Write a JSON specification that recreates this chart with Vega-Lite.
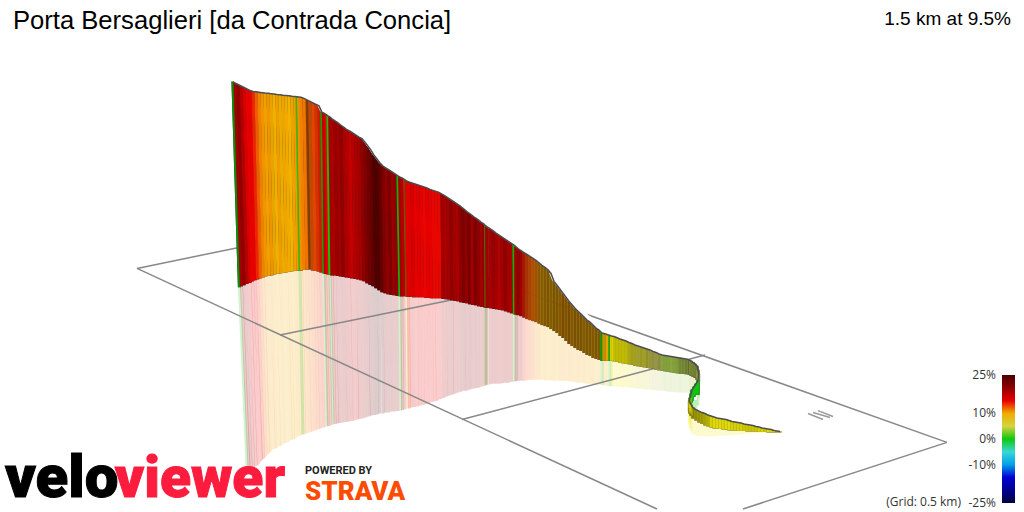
{
  "$schema": "https://vega.github.io/schema/vega-lite/v6.json",
  "width": 1024,
  "height": 512,
  "padding": 0,
  "autosize": {"type": "fit", "contains": "padding"},
  "background": "white",
  "view": {"stroke": null},
  "title": {"text": "Porta Bersaglieri [da Contrada Concia]", "anchor": "start", "frame": "group", "offset": -35, "dx": 13, "font": "Liberation Sans", "fontSize": 25.6, "fontWeight": "normal", "color": "#000000"},
  "datasets": {
    "profile": [
      {"x":233,"xb":239.5,"xl":247,"top":82,"base":289,"low":470,"grade":0.5,"light":0.7},
      {"x":235,"xb":241.5,"xl":249,"top":83.5,"base":288,"low":470,"grade":19,"light":1},
      {"x":238,"xb":244,"xl":251,"top":85,"base":287,"low":470,"grade":20,"light":1},
      {"x":241,"xb":247,"xl":253.5,"top":86.5,"base":285.5,"low":470,"grade":18,"light":1},
      {"x":244,"xb":250,"xl":256,"top":88,"base":284.5,"low":469,"grade":16,"light":1},
      {"x":247,"xb":252.5,"xl":258.5,"top":89.5,"base":283,"low":468,"grade":15,"light":1},
      {"x":250,"xb":255,"xl":261.5,"top":91,"base":282,"low":465,"grade":15,"light":1},
      {"x":253,"xb":257.7,"xl":263.5,"top":92,"base":281,"low":462,"grade":14,"light":1},
      {"x":256,"xb":260.5,"xl":266,"top":92.4,"base":280,"low":460,"grade":12.5,"light":1},
      {"x":259,"xb":263.3,"xl":268.7,"top":92.8,"base":279,"low":457,"grade":11.5,"light":1},
      {"x":262,"xb":266,"xl":271,"top":93.2,"base":278,"low":455,"grade":10.8,"light":1},
      {"x":265,"xb":269,"xl":274,"top":93.6,"base":277.5,"low":452,"grade":10.4,"light":1},
      {"x":268,"xb":272,"xl":276.5,"top":93.9,"base":277,"low":451,"grade":10.8,"light":1},
      {"x":271,"xb":275,"xl":279.5,"top":94.2,"base":276,"low":449,"grade":10.1,"light":0.97},
      {"x":274,"xb":278,"xl":282,"top":94.6,"base":275.5,"low":448,"grade":9.9,"light":1},
      {"x":277,"xb":280.8,"xl":285,"top":95,"base":275,"low":446,"grade":10.6,"light":1},
      {"x":280,"xb":283.7,"xl":288,"top":95.3,"base":274.5,"low":445,"grade":9.8,"light":0.97},
      {"x":283,"xb":286.6,"xl":291,"top":95.7,"base":274,"low":443,"grade":10.3,"light":1},
      {"x":286,"xb":289.4,"xl":293.5,"top":96,"base":273.5,"low":442,"grade":10.1,"light":1},
      {"x":289,"xb":292.3,"xl":296,"top":96.4,"base":273,"low":441,"grade":9.8,"light":1},
      {"x":292,"xb":295.2,"xl":298.7,"top":96.8,"base":272.5,"low":439,"grade":10.4,"light":1},
      {"x":295,"xb":298,"xl":301.5,"top":97.1,"base":272,"low":438,"grade":10.6,"light":1},
      {"x":297,"xb":300,"xl":303,"top":97.4,"base":272,"low":437,"grade":0.8,"light":0.85},
      {"x":298.5,"xb":301.5,"xl":304.5,"top":97.6,"base":272,"low":436.5,"grade":11,"light":1},
      {"x":301,"xb":304,"xl":307,"top":97.9,"base":271.5,"low":436,"grade":11.5,"light":1},
      {"x":304,"xb":306.8,"xl":310,"top":99,"base":271,"low":435,"grade":11.8,"light":1},
      {"x":307,"xb":309.6,"xl":312.6,"top":100.5,"base":271,"low":434,"grade":12,"light":0.55},
      {"x":310,"xb":312.5,"xl":315.5,"top":102,"base":272,"low":433,"grade":12.5,"light":0.8},
      {"x":313,"xb":315.3,"xl":318.3,"top":103.5,"base":272.5,"low":432,"grade":13,"light":0.95},
      {"x":316,"xb":318.2,"xl":321,"top":105,"base":273,"low":431,"grade":13.5,"light":0.9},
      {"x":319,"xb":321,"xl":324,"top":106.5,"base":274,"low":430,"grade":14,"light":0.85},
      {"x":322,"xb":324,"xl":327,"top":113,"base":275,"low":429,"grade":0.8,"light":0.8},
      {"x":323.5,"xb":325.5,"xl":328.5,"top":113.5,"base":275.5,"low":428.5,"grade":17,"light":1},
      {"x":326,"xb":328,"xl":331,"top":115,"base":276,"low":428,"grade":15,"light":1},
      {"x":328,"xb":330,"xl":333,"top":116.5,"base":276.5,"low":427,"grade":0.6,"light":0.95},
      {"x":329.8,"xb":332,"xl":335,"top":117.5,"base":277,"low":426.5,"grade":19,"light":1},
      {"x":332,"xb":334.5,"xl":337.5,"top":119.5,"base":277,"low":426,"grade":18.5,"light":1},
      {"x":335,"xb":337.4,"xl":340,"top":121.5,"base":277.5,"low":425.5,"grade":19.5,"light":1},
      {"x":338,"xb":340.4,"xl":343,"top":123.5,"base":278,"low":425,"grade":19,"light":1},
      {"x":341,"xb":343.3,"xl":346,"top":126,"base":278.5,"low":424.5,"grade":20,"light":1},
      {"x":344,"xb":346.3,"xl":348.8,"top":128,"base":279,"low":424,"grade":18.5,"light":1},
      {"x":347,"xb":349.3,"xl":351.7,"top":130.5,"base":279.5,"low":423.5,"grade":18,"light":1},
      {"x":350,"xb":352,"xl":354.5,"top":132,"base":280,"low":423,"grade":17,"light":1},
      {"x":353,"xb":355,"xl":357.5,"top":134,"base":280.5,"low":422,"grade":18,"light":1},
      {"x":356,"xb":358,"xl":360,"top":136,"base":281,"low":421.5,"grade":18.5,"light":1},
      {"x":359,"xb":361,"xl":363,"top":138,"base":282,"low":421,"grade":19,"light":1},
      {"x":362,"xb":364,"xl":366,"top":139.5,"base":283,"low":420,"grade":20,"light":1},
      {"x":365,"xb":367,"xl":369,"top":143,"base":285,"low":419,"grade":21,"light":1},
      {"x":368,"xb":370,"xl":371.5,"top":147,"base":286.5,"low":418,"grade":22,"light":1},
      {"x":371,"xb":373,"xl":374.5,"top":151,"base":288,"low":417.5,"grade":23,"light":1},
      {"x":374,"xb":376,"xl":377.4,"top":156,"base":290,"low":417,"grade":24.5,"light":1},
      {"x":377,"xb":379,"xl":380,"top":160,"base":292,"low":416,"grade":24.5,"light":1},
      {"x":380,"xb":382,"xl":383.3,"top":164,"base":294,"low":416,"grade":23,"light":1},
      {"x":383,"xb":385,"xl":386,"top":167,"base":295,"low":415,"grade":21,"light":1},
      {"x":386,"xb":388,"xl":389,"top":169,"base":296,"low":415,"grade":20,"light":1},
      {"x":389,"xb":391,"xl":392,"top":171,"base":296.5,"low":414,"grade":21,"light":1},
      {"x":392,"xb":394,"xl":395,"top":173,"base":297,"low":414,"grade":19.5,"light":1},
      {"x":395,"xb":397,"xl":398,"top":175,"base":297.5,"low":413.5,"grade":20,"light":1},
      {"x":398,"xb":400,"xl":401,"top":177,"base":298,"low":413,"grade":0.7,"light":0.9},
      {"x":399.7,"xb":401.7,"xl":402.5,"top":178,"base":298,"low":412.7,"grade":19,"light":1},
      {"x":402,"xb":404,"xl":405,"top":179,"base":298,"low":412,"grade":18,"light":1},
      {"x":405,"xb":407,"xl":408,"top":181,"base":298.5,"low":411,"grade":10,"light":0.45},
      {"x":406.5,"xb":408.4,"xl":409.3,"top":182,"base":298.5,"low":411,"grade":15.5,"light":1},
      {"x":409,"xb":410.8,"xl":411.7,"top":183,"base":298.5,"low":410,"grade":15.5,"light":1},
      {"x":412,"xb":413.7,"xl":414.5,"top":184,"base":299,"low":409.5,"grade":16,"light":1},
      {"x":415,"xb":416.7,"xl":417.5,"top":185,"base":299,"low":409,"grade":15,"light":1},
      {"x":418,"xb":419.6,"xl":420.3,"top":186,"base":299,"low":408,"grade":15.5,"light":1},
      {"x":421,"xb":422.5,"xl":423.2,"top":187,"base":299,"low":407.5,"grade":15,"light":1},
      {"x":424,"xb":425.5,"xl":426,"top":188,"base":299.5,"low":406.5,"grade":14.8,"light":1},
      {"x":427,"xb":428.4,"xl":429,"top":189,"base":299.5,"low":405.7,"grade":15.2,"light":1},
      {"x":430,"xb":431.3,"xl":432,"top":190.5,"base":300,"low":404.5,"grade":15,"light":1},
      {"x":433,"xb":434.2,"xl":434.8,"top":191.5,"base":300,"low":403.5,"grade":14.8,"light":1},
      {"x":436,"xb":437,"xl":437.5,"top":192.5,"base":300,"low":403,"grade":14.8,"light":1},
      {"x":439,"xb":440,"xl":440.5,"top":193.5,"base":300,"low":401.5,"grade":14.8,"light":1},
      {"x":442,"xb":443,"xl":443.5,"top":195.3,"base":300.5,"low":400.5,"grade":19,"light":1},
      {"x":445,"xb":446,"xl":446.5,"top":197,"base":301,"low":399,"grade":18.5,"light":1},
      {"x":448,"xb":449,"xl":449.3,"top":199,"base":301.3,"low":398,"grade":19,"light":1},
      {"x":451,"xb":452,"xl":452.3,"top":201,"base":302,"low":397,"grade":20,"light":1},
      {"x":454,"xb":454.8,"xl":455,"top":203,"base":302.5,"low":396,"grade":19,"light":1},
      {"x":457,"xb":457.8,"xl":458,"top":205,"base":303,"low":395,"grade":18.5,"light":1},
      {"x":460,"xb":460.8,"xl":461,"top":207,"base":304,"low":394,"grade":20,"light":1},
      {"x":463,"xb":463.8,"xl":464,"top":209.5,"base":304.5,"low":393,"grade":21,"light":1},
      {"x":466,"xb":466.7,"xl":466.8,"top":212,"base":305,"low":393,"grade":20,"light":1},
      {"x":469,"xb":469.7,"xl":469.8,"top":214.5,"base":306,"low":392,"grade":21.5,"light":1},
      {"x":472,"xb":472.6,"xl":472.7,"top":216.5,"base":306.5,"low":391,"grade":19,"light":1},
      {"x":475,"xb":475.6,"xl":475.7,"top":219,"base":307,"low":390.5,"grade":21,"light":1},
      {"x":478,"xb":478.6,"xl":478.7,"top":221,"base":308,"low":390,"grade":20,"light":1},
      {"x":481,"xb":481.6,"xl":481.7,"top":223.5,"base":308.5,"low":389,"grade":19,"light":1},
      {"x":484,"xb":484.6,"xl":484.7,"top":225.5,"base":309,"low":388,"grade":20,"light":1},
      {"x":485.5,"xb":486,"xl":486,"top":227,"base":309.5,"low":387.5,"grade":0.8,"light":0.5},
      {"x":486.7,"xb":487.2,"xl":487.2,"top":228,"base":309.5,"low":387,"grade":19,"light":1},
      {"x":490,"xb":490.5,"xl":490.5,"top":230,"base":310,"low":386.5,"grade":18.5,"light":1},
      {"x":493,"xb":493.5,"xl":493.5,"top":232,"base":310.5,"low":386,"grade":19.5,"light":1},
      {"x":496,"xb":496.5,"xl":496.5,"top":234.5,"base":311,"low":386,"grade":19,"light":1},
      {"x":499,"xb":499.5,"xl":499.5,"top":236.5,"base":311.5,"low":386,"grade":18,"light":1},
      {"x":502,"xb":502.5,"xl":502.5,"top":238.5,"base":312,"low":385.5,"grade":19,"light":1},
      {"x":505,"xb":505.5,"xl":505.5,"top":240.5,"base":313,"low":385,"grade":20,"light":1},
      {"x":508,"xb":508.5,"xl":508.5,"top":242.5,"base":314,"low":385,"grade":19,"light":1},
      {"x":511,"xb":511.5,"xl":511.5,"top":244.5,"base":315,"low":384,"grade":18.5,"light":1},
      {"x":514,"xb":514.5,"xl":514.5,"top":246.5,"base":316,"low":384,"grade":0.8,"light":0.9},
      {"x":515.7,"xb":516,"xl":516,"top":248,"base":316.3,"low":383.5,"grade":19,"light":1},
      {"x":518,"xb":518,"xl":518,"top":250,"base":317,"low":383,"grade":20,"light":1},
      {"x":521,"xb":521,"xl":521,"top":252,"base":318,"low":383,"grade":19,"light":1},
      {"x":524,"xb":524,"xl":524,"top":254,"base":319.5,"low":383,"grade":14,"light":0.7},
      {"x":527,"xb":527,"xl":527,"top":256,"base":321,"low":382.5,"grade":13,"light":0.7},
      {"x":530,"xb":530,"xl":530,"top":258,"base":322,"low":382,"grade":12.5,"light":0.72},
      {"x":533,"xb":533,"xl":533,"top":260,"base":323,"low":382,"grade":12,"light":0.72},
      {"x":536,"xb":536,"xl":536,"top":262,"base":324,"low":382,"grade":11.5,"light":0.65},
      {"x":539,"xb":539,"xl":539,"top":264.5,"base":325.5,"low":382,"grade":11,"light":0.6},
      {"x":542,"xb":542,"xl":542,"top":267,"base":327,"low":382,"grade":10,"light":0.55},
      {"x":545,"xb":545,"xl":545,"top":269,"base":328,"low":382.5,"grade":10.5,"light":0.55},
      {"x":548,"xb":548,"xl":548,"top":271.5,"base":329,"low":382.5,"grade":10,"light":0.5},
      {"x":551,"xb":551,"xl":551,"top":275,"base":331,"low":382.5,"grade":10.2,"light":0.55},
      {"x":554,"xb":554,"xl":554,"top":283,"base":333,"low":383,"grade":10.5,"light":0.52},
      {"x":557,"xb":557,"xl":557,"top":287,"base":335,"low":383,"grade":10,"light":0.5},
      {"x":560,"xb":560,"xl":560,"top":291,"base":338,"low":383,"grade":10.5,"light":0.55},
      {"x":563,"xb":563,"xl":563,"top":295,"base":340,"low":383,"grade":10.8,"light":0.5},
      {"x":566,"xb":566,"xl":566,"top":299,"base":343,"low":383,"grade":10.5,"light":0.52},
      {"x":569,"xb":569,"xl":569,"top":303,"base":346,"low":383.5,"grade":10.8,"light":0.5},
      {"x":572,"xb":572,"xl":572,"top":306.5,"base":348,"low":384,"grade":10.5,"light":0.55},
      {"x":575,"xb":575,"xl":575,"top":310,"base":350,"low":384.5,"grade":10.3,"light":0.5},
      {"x":578,"xb":578,"xl":578,"top":313,"base":352,"low":385,"grade":10.5,"light":0.52},
      {"x":581,"xb":581,"xl":581,"top":316,"base":353,"low":385,"grade":10.2,"light":0.5},
      {"x":584,"xb":584,"xl":584,"top":319,"base":355,"low":385.5,"grade":10.5,"light":0.55},
      {"x":587,"xb":587,"xl":587,"top":322,"base":357,"low":386,"grade":10,"light":0.5},
      {"x":590,"xb":590,"xl":590,"top":324,"base":358,"low":386,"grade":10.3,"light":0.52},
      {"x":593,"xb":593,"xl":593,"top":327,"base":360,"low":386.5,"grade":10.5,"light":0.55},
      {"x":596,"xb":596,"xl":596,"top":330,"base":361,"low":387,"grade":10,"light":0.5},
      {"x":599,"xb":599,"xl":599,"top":332,"base":362,"low":387,"grade":10.2,"light":0.52},
      {"x":602,"xb":602,"xl":602,"top":335,"base":363,"low":387,"grade":0.6,"light":0.75},
      {"x":604,"xb":604,"xl":604,"top":335.5,"base":363,"low":387.5,"grade":10.5,"light":0.85},
      {"x":607,"xb":607,"xl":607,"top":336.5,"base":363,"low":388,"grade":10,"light":0.95},
      {"x":610,"xb":610,"xl":610,"top":337.5,"base":363,"low":388.5,"grade":0.8,"light":0.8},
      {"x":611.5,"xb":611.5,"xl":611.5,"top":338,"base":363,"low":388.5,"grade":8.5,"light":0.85},
      {"x":614,"xb":614,"xl":614,"top":338.5,"base":363.5,"low":388.5,"grade":8,"light":0.8},
      {"x":617,"xb":617,"xl":617,"top":339.7,"base":364,"low":389,"grade":8,"light":0.8},
      {"x":620,"xb":620,"xl":620,"top":341,"base":365,"low":389,"grade":7.8,"light":0.8},
      {"x":623,"xb":623,"xl":623,"top":342,"base":365.5,"low":389.5,"grade":8,"light":0.8},
      {"x":626,"xb":626,"xl":626,"top":343,"base":366,"low":389.5,"grade":7.7,"light":0.8},
      {"x":629,"xb":629,"xl":629,"top":344.5,"base":366.5,"low":390,"grade":7,"light":0.75},
      {"x":632,"xb":632,"xl":632,"top":345.5,"base":367,"low":390,"grade":6,"light":0.72},
      {"x":635,"xb":635,"xl":635,"top":347,"base":368,"low":390.5,"grade":6.5,"light":0.72},
      {"x":638,"xb":638,"xl":638,"top":348,"base":368.5,"low":391,"grade":5,"light":0.75},
      {"x":641,"xb":641,"xl":641,"top":349,"base":369,"low":391,"grade":6,"light":0.7},
      {"x":644,"xb":644,"xl":644,"top":350,"base":369.5,"low":391.5,"grade":5,"light":0.75},
      {"x":647,"xb":647,"xl":647,"top":351,"base":370,"low":392,"grade":5.5,"light":0.68},
      {"x":650,"xb":650,"xl":650,"top":352,"base":370.5,"low":392,"grade":4.5,"light":0.72},
      {"x":653,"xb":653,"xl":653,"top":353.5,"base":371,"low":392.5,"grade":2,"light":0.72},
      {"x":656,"xb":656,"xl":656,"top":354.5,"base":372,"low":392.5,"grade":1.9,"light":0.75},
      {"x":659,"xb":659,"xl":659,"top":356,"base":372.5,"low":393,"grade":2.5,"light":0.7},
      {"x":662,"xb":662,"xl":662,"top":357,"base":373,"low":393,"grade":1.7,"light":0.8},
      {"x":665,"xb":665,"xl":665,"top":357.5,"base":373.5,"low":393.5,"grade":1.6,"light":0.82},
      {"x":668,"xb":668,"xl":668,"top":358,"base":374,"low":394,"grade":1.7,"light":0.78},
      {"x":671,"xb":671,"xl":671,"top":358.5,"base":374.5,"low":394,"grade":1.6,"light":0.85},
      {"x":674,"xb":674,"xl":674,"top":359,"base":375,"low":394.5,"grade":1.65,"light":0.8},
      {"x":677,"xb":677,"xl":677,"top":359.5,"base":375.5,"low":394.5,"grade":1.7,"light":0.75},
      {"x":680,"xb":680,"xl":680,"top":360,"base":376,"low":395,"grade":1.6,"light":0.7},
      {"x":683,"xb":683,"xl":683,"top":360.5,"base":376,"low":395,"grade":1.7,"light":0.66},
      {"x":686,"xb":686,"xl":686,"top":361,"base":376.5,"low":395,"grade":1.7,"light":0.62},
      {"x":689,"xb":689,"xl":689,"top":362,"base":377,"low":395.5,"grade":1.7,"light":0.55},
      {"x":691,"xb":691,"xl":691,"top":363,"base":378,"low":396,"grade":1.7,"light":0.5},
      {"x":693,"xb":693,"xl":693,"top":364.5,"base":379,"low":396,"grade":1.7,"light":0.5},
      {"x":695,"xb":695,"xl":695,"top":366,"base":380,"low":396.5,"grade":1.7,"light":0.48},
      {"x":697,"xb":697,"xl":697,"top":368,"base":382,"low":397,"grade":1.7,"light":0.48},
      {"x":698,"xb":698,"xl":698,"top":372,"base":383,"low":398,"grade":1.7,"light":0.5},
      {"x":698.5,"xb":698.5,"xl":698.5,"top":376,"base":384,"low":400,"grade":1.7,"light":0.5},
      {"x":698,"xb":698,"xl":698,"top":383,"base":397,"low":408,"grade":0.5,"light":0.95},
      {"x":696,"xb":696,"xl":696,"top":386,"base":397,"low":411,"grade":0.5,"light":0.95},
      {"x":694,"xb":694,"xl":694,"top":389,"base":399,"low":414,"grade":0.5,"light":0.95},
      {"x":692,"xb":692,"xl":692,"top":392,"base":403,"low":417,"grade":0.5,"light":0.95},
      {"x":691,"xb":691,"xl":691,"top":396,"base":405,"low":420,"grade":0.5,"light":0.9},
      {"x":690,"xb":690,"xl":690,"top":400,"base":410,"low":424,"grade":8,"light":0.45},
      {"x":689.5,"xb":689.5,"xl":689.5,"top":403,"base":414,"low":427,"grade":8,"light":0.45},
      {"x":690,"xb":690,"xl":690,"top":405,"base":416,"low":431,"grade":8,"light":0.5},
      {"x":691,"xb":691,"xl":691,"top":407,"base":418,"low":434,"grade":8,"light":0.5},
      {"x":693,"xb":693,"xl":693,"top":410,"base":421,"low":437,"grade":8,"light":0.55},
      {"x":696,"xb":696,"xl":696,"top":412,"base":423,"low":438,"grade":8,"light":0.6},
      {"x":699,"xb":699,"xl":699,"top":413.5,"base":425,"low":438.5,"grade":8,"light":0.62},
      {"x":702,"xb":702,"xl":702,"top":415,"base":426.5,"low":439,"grade":8,"light":0.65},
      {"x":705,"xb":705,"xl":705,"top":416,"base":428,"low":439,"grade":8,"light":0.7},
      {"x":708,"xb":708,"xl":708,"top":417.5,"base":429,"low":439,"grade":8,"light":0.75},
      {"x":711,"xb":711,"xl":711,"top":418.5,"base":430,"low":439,"grade":7.8,"light":0.9},
      {"x":714,"xb":714,"xl":714,"top":419.5,"base":431,"low":439,"grade":7.5,"light":0.95},
      {"x":717,"xb":717,"xl":717,"top":420.5,"base":431,"low":438.5,"grade":7.5,"light":0.95},
      {"x":720,"xb":720,"xl":720,"top":421,"base":431.5,"low":438.5,"grade":7.5,"light":0.95},
      {"x":723,"xb":723,"xl":723,"top":421.5,"base":432,"low":438,"grade":7.6,"light":0.93},
      {"x":726,"xb":726,"xl":726,"top":422,"base":432,"low":438,"grade":7.5,"light":0.95},
      {"x":729,"xb":729,"xl":729,"top":423,"base":433,"low":438,"grade":7.8,"light":0.95},
      {"x":732,"xb":732,"xl":732,"top":424,"base":433,"low":437.5,"grade":7.5,"light":0.9},
      {"x":735,"xb":735,"xl":735,"top":424.5,"base":433,"low":437.5,"grade":7.5,"light":0.9},
      {"x":738,"xb":738,"xl":738,"top":425,"base":433.5,"low":437,"grade":7.7,"light":0.9},
      {"x":741,"xb":741,"xl":741,"top":425.5,"base":433.5,"low":437,"grade":7.7,"light":0.9},
      {"x":744,"xb":744,"xl":744,"top":426.5,"base":433.5,"low":436.5,"grade":8,"light":0.85},
      {"x":747,"xb":747,"xl":747,"top":427,"base":434,"low":436.5,"grade":8,"light":0.85},
      {"x":750,"xb":750,"xl":750,"top":427.5,"base":434,"low":436,"grade":7.7,"light":0.85},
      {"x":753,"xb":753,"xl":753,"top":428,"base":434,"low":436,"grade":8,"light":0.85},
      {"x":756,"xb":756,"xl":756,"top":429,"base":434,"low":436,"grade":8,"light":0.85},
      {"x":759,"xb":759,"xl":759,"top":429.5,"base":434.5,"low":435.5,"grade":7.7,"light":0.9},
      {"x":762,"xb":762,"xl":762,"top":430.5,"base":434.5,"low":435.5,"grade":7.8,"light":0.9},
      {"x":765,"xb":765,"xl":765,"top":431,"base":434.5,"low":435.5,"grade":8,"light":0.85},
      {"x":768,"xb":768,"xl":768,"top":431.5,"base":435,"low":435,"grade":7.5,"light":0.95},
      {"x":771,"xb":771,"xl":771,"top":432,"base":435,"low":435,"grade":7.5,"light":0.95},
      {"x":774,"xb":774,"xl":774,"top":433,"base":435,"low":435,"grade":7.5,"light":0.95},
      {"x":777,"xb":777,"xl":777,"top":433.5,"base":435,"low":435,"grade":7.5,"light":0.95},
      {"x":780,"xb":780,"xl":780,"top":434,"base":435,"low":435,"grade":7.5,"light":0.95}
    ],
    "grid": [
      {"edge":"front","x":137,"y":270},{"edge":"front","x":657,"y":512},
      {"edge":"back","x":137,"y":270},{"edge":"back","x":340,"y":228},{"edge":"back","x":947,"y":445},
      {"edge":"right","x":743,"y":512},{"edge":"right","x":947,"y":445},
      {"edge":"km0.5","x":280,"y":337},{"edge":"km0.5","x":450,"y":302},{"edge":"km0.5","x":500,"y":291},
      {"edge":"km1","x":462,"y":422},{"edge":"km1","x":705,"y":357}
    ],
    "flag": [
      {"edge":"a","x":808,"y":416},{"edge":"a","x":823,"y":422},
      {"edge":"b","x":813,"y":415},{"edge":"b","x":830,"y":420},
      {"edge":"c","x":818,"y":413},{"edge":"c","x":833,"y":419}
    ]
  },
  "layer": [
    {
      "data": {"name": "profile"},
      "mark": {"type": "rule", "strokeWidth": 3, "strokeOpacity": 0.2},
      "encoding": {
        "x": {"field": "xb", "type": "quantitative", "scale": {"domain": [0, 1024], "nice": false}, "axis": null},
        "x2": {"field": "xl"},
        "y": {"field": "base", "type": "quantitative", "scale": {"domain": [512, 0], "nice": false}, "axis": null},
        "y2": {"field": "low"},
        "color": {
          "field": "grade", "type": "quantitative",
          "scale": {
            "domain": [-25, -20, -13.5, -10, -6, -4, -2, -1, 1, 1.8, 3.5, 8, 11.5, 15, 21, 25],
            "range": ["#000040", "#000090", "#0000e8", "#00a0e8", "#00e8e8", "#70c8c0", "#70c8c0", "#10c810", "#10c810", "#c8c858", "#c8c860", "#f0e800", "#f08000", "#e80000", "#800000", "#4a0000"],
            "interpolate": "rgb"
          },
          "legend": {
            "orient": "none", "legendX": 1002, "legendY": 375, "title": null,
            "gradientLength": 128, "gradientThickness": 13, "gradientStrokeWidth": 0,
            "values": [25, 10, 0, -10, -25],
            "labelExpr": "datum.value + '%'",
            "labelFont": "Open Sans", "labelFontSize": 12, "labelColor": "#333333",
            "labelOffset": -19, "labelOverlap": false,
            "encode": {"labels": {"update": {"align": {"value": "right"}, "baseline": {"value": "middle"}}}}
          }
        }
      }
    },
    {
      "data": {"name": "profile"},
      "transform": [{"window": [{"op": "row_number", "as": "seq"}]}, {"filter": "datum.top < 370"}],
      "mark": {"type": "line", "stroke": "white", "strokeWidth": 5, "yOffset": 3},
      "encoding": {
        "x": {"field": "xl", "type": "quantitative"},
        "y": {"field": "low", "type": "quantitative"},
        "order": {"field": "seq"}
      }
    },
    {
      "data": {"name": "grid"},
      "mark": {"type": "line", "stroke": "#888888", "strokeWidth": 1.5},
      "encoding": {
        "x": {"field": "x", "type": "quantitative"},
        "y": {"field": "y", "type": "quantitative"},
        "detail": {"field": "edge"}
      }
    },
    {
      "data": {"name": "flag"},
      "mark": {"type": "line", "stroke": "#999999", "strokeWidth": 1.5},
      "encoding": {
        "x": {"field": "x", "type": "quantitative"},
        "y": {"field": "y", "type": "quantitative"},
        "detail": {"field": "edge"}
      }
    },
    {
      "data": {"name": "profile"},
      "mark": {"type": "rule", "strokeWidth": 3.2, "color": "#000000"},
      "encoding": {
        "x": {"field": "x", "type": "quantitative"},
        "x2": {"field": "xb"},
        "y": {"field": "top", "type": "quantitative"},
        "y2": {"field": "base"}
      }
    },
    {
      "data": {"name": "profile"},
      "mark": {"type": "rule", "strokeWidth": 3.2},
      "encoding": {
        "x": {"field": "x", "type": "quantitative"},
        "x2": {"field": "xb"},
        "y": {"field": "top", "type": "quantitative"},
        "y2": {"field": "base"},
        "color": {"field": "grade", "type": "quantitative", "legend": null},
        "opacity": {"field": "light", "type": "quantitative", "scale": {"domain": [0, 1], "range": [0, 1]}, "legend": null}
      }
    },
    {
      "data": {"name": "profile"},
      "transform": [{"window": [{"op": "row_number", "as": "seq"}]}, {"filter": "datum.top < 360"}],
      "mark": {"type": "line", "stroke": "white", "strokeWidth": 5, "yOffset": -3},
      "encoding": {
        "x": {"field": "x", "type": "quantitative"},
        "y": {"field": "top", "type": "quantitative"},
        "order": {"field": "seq"}
      }
    },
    {
      "data": {"name": "profile"},
      "transform": [{"window": [{"op": "row_number", "as": "seq"}]}],
      "mark": {"type": "line", "stroke": "#4d4d4d", "strokeWidth": 1.5},
      "encoding": {
        "x": {"field": "x", "type": "quantitative"},
        "y": {"field": "top", "type": "quantitative"},
        "order": {"field": "seq"}
      }
    },
    {
      "data": {"values": [{"label": "1.5 km at 9.5%", "x": 1011, "y": 19}]},
      "mark": {"type": "text", "align": "right", "baseline": "middle", "font": "Liberation Sans", "fontSize": 19, "color": "#000000"},
      "encoding": {
        "x": {"field": "x", "type": "quantitative"},
        "y": {"field": "y", "type": "quantitative"},
        "text": {"field": "label"}
      }
    },
    {
      "data": {"values": [{"label": "(Grid: 0.5 km)", "x": 961, "y": 505}]},
      "mark": {"type": "text", "align": "right", "baseline": "middle", "font": "Open Sans", "fontSize": 12, "color": "#333333"},
      "encoding": {
        "x": {"field": "x", "type": "quantitative"},
        "y": {"field": "y", "type": "quantitative"},
        "text": {"field": "label"}
      }
    },
    {
      "data": {"values": [{"label": "velo", "x": 5, "y": 500}]},
      "mark": {"type": "text", "align": "left", "baseline": "alphabetic", "font": "Roboto", "fontSize": 60, "fontWeight": 900, "color": "#000000", "stroke": "#000000", "strokeWidth": 1},
      "encoding": {
        "x": {"field": "x", "type": "quantitative"},
        "y": {"field": "y", "type": "quantitative"},
        "text": {"field": "label"}
      }
    },
    {
      "data": {"values": [{"label": "viewer", "x": 285, "y": 500}]},
      "mark": {"type": "text", "align": "right", "baseline": "alphabetic", "font": "Roboto", "fontSize": 57, "fontWeight": 900, "color": "#fc1c3d", "stroke": "#fc1c3d", "strokeWidth": 1},
      "encoding": {
        "x": {"field": "x", "type": "quantitative"},
        "y": {"field": "y", "type": "quantitative"},
        "text": {"field": "label"}
      }
    },
    {
      "data": {"values": [{"label": "POWERED BY", "x": 305, "y": 476.5}]},
      "mark": {"type": "text", "align": "left", "baseline": "alphabetic", "font": "Roboto", "fontSize": 11, "fontWeight": 700, "color": "#222222"},
      "encoding": {
        "x": {"field": "x", "type": "quantitative"},
        "y": {"field": "y", "type": "quantitative"},
        "text": {"field": "label"}
      }
    },
    {
      "data": {"values": [{"label": "STRAVA", "x": 305, "y": 503}]},
      "mark": {"type": "text", "align": "left", "baseline": "alphabetic", "font": "Roboto", "fontSize": 26, "fontWeight": 900, "color": "#fc4c02"},
      "encoding": {
        "x": {"field": "x", "type": "quantitative"},
        "y": {"field": "y", "type": "quantitative"},
        "text": {"field": "label"}
      }
    }
  ]
}
